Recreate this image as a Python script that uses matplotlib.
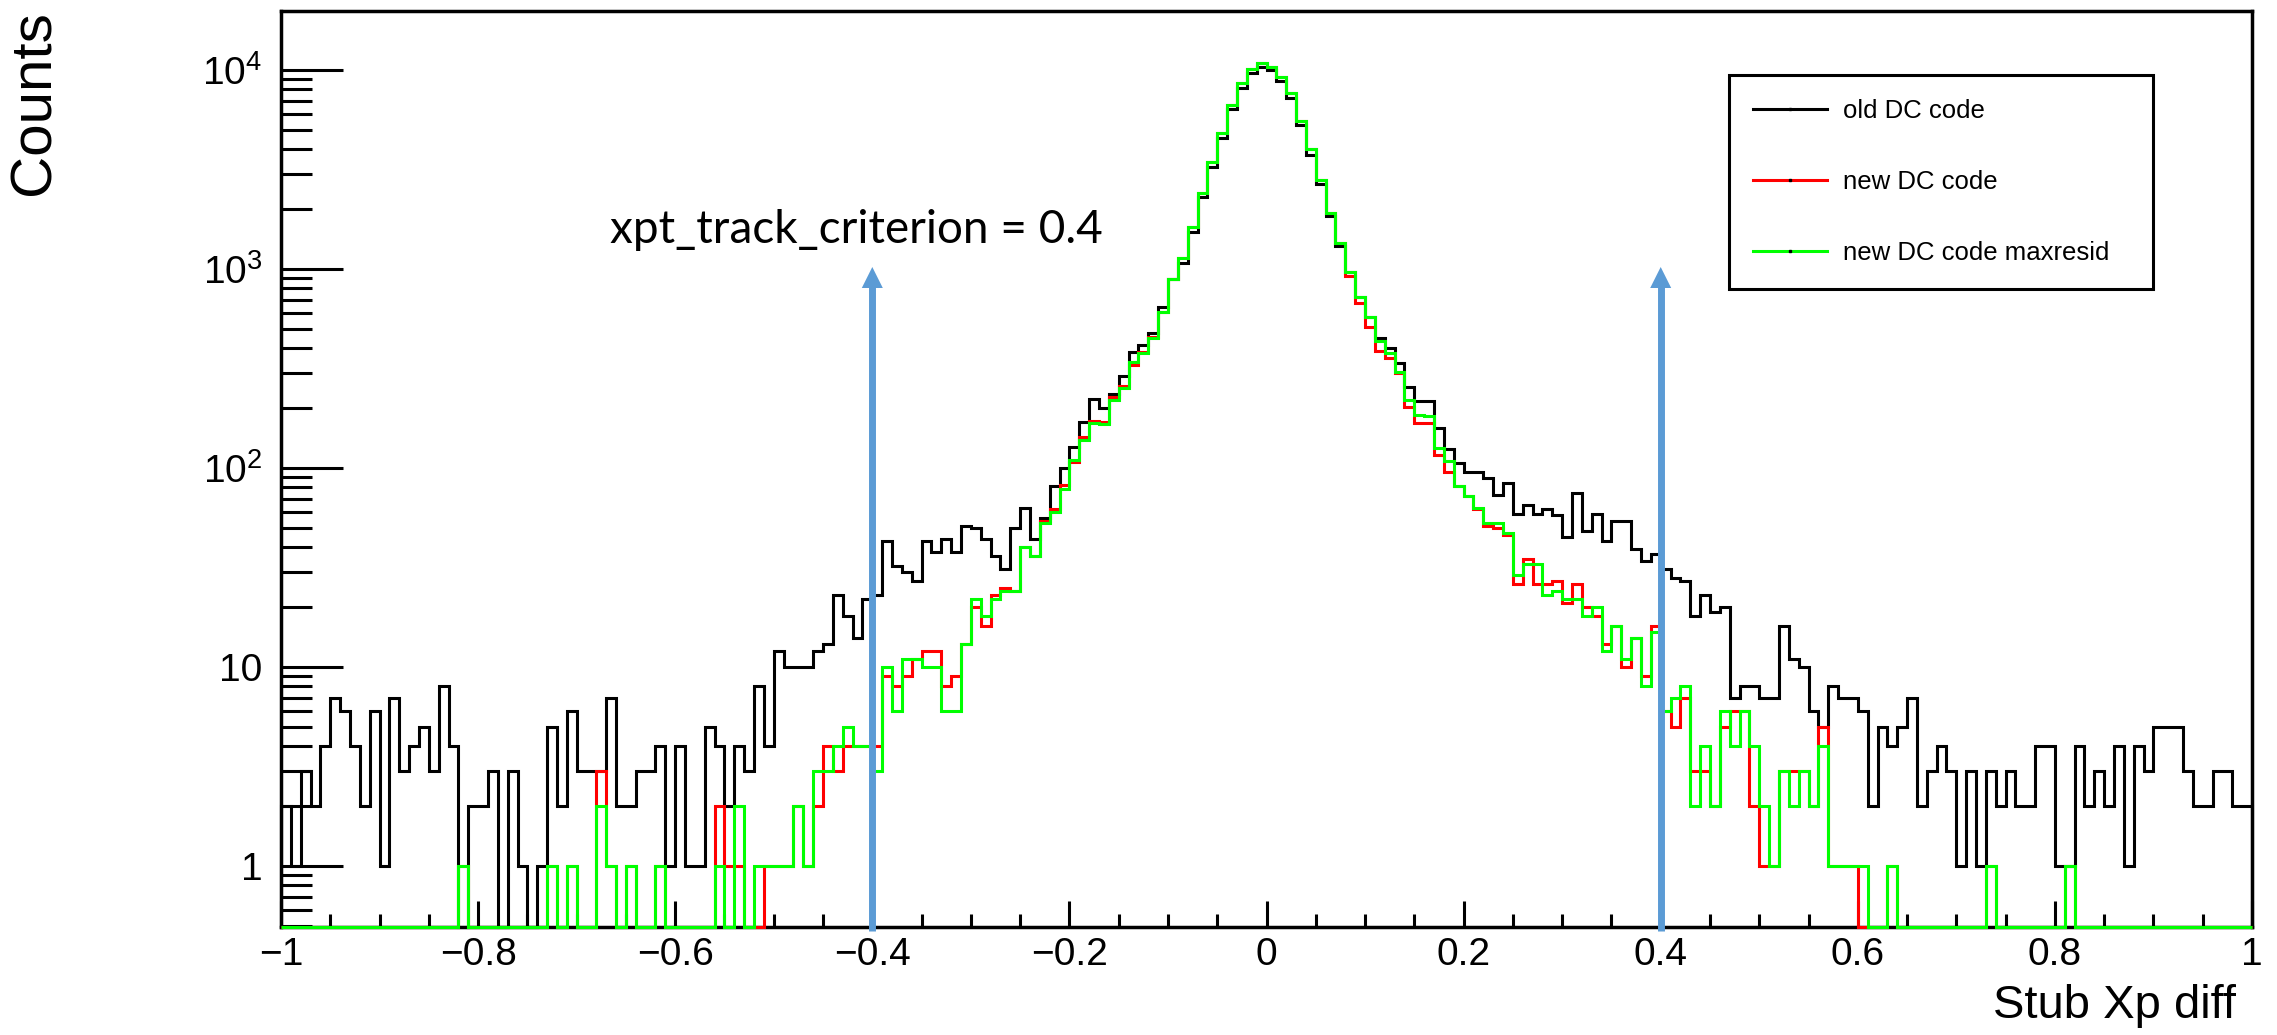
import numpy as np
import matplotlib
matplotlib.use('Agg')
import matplotlib.pyplot as plt
from matplotlib.lines import Line2D
from matplotlib.patches import Polygon
import matplotlib.transforms as mtransforms
from matplotlib.ticker import FixedLocator, FixedFormatter, MultipleLocator, NullFormatter
from matplotlib import font_manager

# ---------------- data ----------------
bin_edges = np.linspace(-1.0, 1.0, 201)

old_dc = [
    2, 1, 3, 2, 4, 7, 6, 4, 2, 6,
    1, 7, 3, 4, 5, 3, 8, 4, 0, 2,
    2, 3, 0, 3, 1, 0, 1, 5, 2, 6,
    3, 3, 3, 7, 2, 2, 3, 3, 4, 1,
    4, 1, 1, 5, 4, 2, 4, 3, 8, 4,
    12, 10, 10, 10, 12, 13, 23, 18, 14, 22,
    23, 43, 32, 30, 27, 43, 38, 44, 38, 51,
    50, 44, 36, 31, 50, 63, 44, 56, 81, 100,
    128, 170, 222, 200, 235, 290, 382, 415, 475, 645,
    890, 1070, 1540, 2300, 3270, 4550, 6350, 8100, 9620, 10400,
    9950, 8750, 7200, 5300, 3740, 2670, 1845, 1300, 965, 725,
    576, 450, 400, 338, 256, 218, 218, 158, 124, 106,
    96, 96, 89, 73, 84, 59, 65, 59, 62, 58,
    45, 75, 48, 59, 43, 54, 54, 39, 34, 37,
    31, 28, 27, 18, 23, 19, 20, 7, 8, 8,
    7, 7, 16, 11, 10, 6, 5, 8, 7, 7,
    6, 2, 5, 4, 5, 7, 2, 3, 4, 3,
    1, 3, 1, 3, 2, 3, 2, 2, 4, 4,
    1, 1, 4, 2, 3, 2, 4, 1, 4, 3,
    5, 5, 5, 3, 2, 2, 3, 3, 2, 2,
]

new_dc = [
    0, 0, 0, 0, 0, 0, 0, 0, 0, 0,
    0, 0, 0, 0, 0, 0, 0, 0, 1, 0,
    0, 0, 0, 0, 0, 0, 0, 1, 0, 1,
    0, 0, 3, 1, 0, 1, 0, 0, 1, 0,
    0, 0, 0, 0, 2, 1, 1, 0, 0, 1,
    1, 1, 2, 1, 2, 4, 3, 4, 4, 4,
    4, 9, 8, 9, 11, 12, 12, 8, 9, 13,
    20, 16, 23, 25, 24, 40, 36, 54, 62, 82,
    107, 143, 173, 170, 228, 258, 330, 383, 455, 610,
    895, 1130, 1630, 2400, 3450, 4840, 6670, 8570, 10080, 10890,
    10400, 9190, 7640, 5540, 3995, 2800, 1918, 1346, 927, 672,
    514, 385, 355, 300, 203, 168, 168, 116, 96, 81,
    72, 62, 51, 50, 46, 26, 35, 26, 26, 27,
    21, 26, 20, 18, 13, 16, 10, 14, 9, 16,
    6, 5, 7, 3, 3, 2, 5, 6, 6, 2,
    1, 1, 3, 3, 3, 2, 5, 1, 1, 1,
    0, 0, 0, 1, 0, 0, 0, 0, 0, 0,
    0, 0, 0, 1, 0, 0, 0, 0, 0, 0,
    0, 1, 0, 0, 0, 0, 0, 0, 0, 0,
    0, 0, 0, 0, 0, 0, 0, 0, 0, 0,
]

new_dc_maxresid = [
    0, 0, 0, 0, 0, 0, 0, 0, 0, 0,
    0, 0, 0, 0, 0, 0, 0, 0, 1, 0,
    0, 0, 0, 0, 0, 0, 0, 1, 0, 1,
    0, 0, 2, 1, 0, 1, 0, 0, 1, 0,
    0, 0, 0, 0, 1, 0, 2, 0, 1, 1,
    1, 1, 2, 1, 3, 3, 4, 5, 4, 4,
    3, 10, 6, 11, 11, 10, 10, 6, 6, 13,
    22, 18, 22, 24, 24, 40, 36, 53, 60, 78,
    110, 138, 168, 166, 220, 252, 340, 377, 450, 605,
    895, 1130, 1630, 2400, 3450, 4840, 6670, 8570, 10080, 10890,
    10400, 9190, 7640, 5540, 3995, 2800, 1918, 1346, 970, 726,
    576, 435, 377, 305, 220, 185, 183, 126, 108, 81,
    72, 63, 53, 53, 47, 29, 33, 33, 23, 24,
    22, 22, 18, 20, 12, 16, 11, 14, 8, 15,
    6, 7, 8, 2, 4, 2, 6, 4, 6, 4,
    2, 1, 3, 2, 3, 2, 4, 1, 1, 1,
    1, 0, 0, 1, 0, 0, 0, 0, 0, 0,
    0, 0, 0, 1, 0, 0, 0, 0, 0, 0,
    0, 1, 0, 0, 0, 0, 0, 0, 0, 0,
    0, 0, 0, 0, 0, 0, 0, 0, 0, 0,
]

series_labels = ['old DC code', 'new DC code', 'new DC code maxresid']
series_colors = ['#000000', '#ff0000', '#00ff00']

x_tick_values = [-1.0, -0.8, -0.6, -0.4, -0.2, 0.0, 0.2, 0.4, 0.6, 0.8, 1.0]
x_tick_labels = ['\u22121', '\u22120.8', '\u22120.6', '\u22120.4', '\u22120.2', '0',
                 '0.2', '0.4', '0.6', '0.8', '1']
y_tick_values = [1, 10, 100, 1000, 10000]
y_tick_labels = ['1', '10', r'$\mathregular{10^{2}}$', r'$\mathregular{10^{3}}$',
                 r'$\mathregular{10^{4}}$']

criterion = 0.4
annotation_text = 'xpt_track_criterion = 0.4'
x_title = 'Stub Xp diff'
y_title = 'Counts'

# ---------------- fonts ----------------
installed = {f.name for f in font_manager.fontManager.ttflist}
narrow = 'Liberation Sans Narrow' if 'Liberation Sans Narrow' in installed else 'Liberation Sans'
root_font = [narrow, 'Liberation Sans', 'DejaVu Sans']
reg_font = ['Liberation Sans', 'DejaVu Sans']
plt.rcParams['font.family'] = root_font
plt.rcParams['mathtext.default'] = 'regular'

# ---------------- figure ----------------
W, H = 2277, 1035
fig = plt.figure(figsize=(W / 100, H / 100), dpi=100)
fig.patch.set_facecolor('white')
ax_left, ax_right, ax_top, ax_bottom = 281, 2252, 11, 927
ax = fig.add_axes([ax_left / W, 1 - ax_bottom / H, (ax_right - ax_left) / W, (ax_bottom - ax_top) / H])

ymin, ymax = 0.494, 1.978e4
ax.set_yscale('log')
ax.set_xlim(-1, 1)
ax.set_ylim(ymin, ymax)

lw_hist = 2.2
for vals, col, lab in zip([old_dc, new_dc, new_dc_maxresid], series_colors, series_labels):
    v = np.asarray(vals, dtype=float)
    v = np.where(v > 0, v, ymin)
    ax.stairs(v, bin_edges, baseline=ymin, color=col, lw=lw_hist, zorder=3,
              clip_on=False, label=lab)

# ---------------- axes styling ----------------
for sp in ax.spines.values():
    sp.set_linewidth(2.5)
    sp.set_color('black')

ax.xaxis.set_major_locator(FixedLocator(x_tick_values))
ax.xaxis.set_major_formatter(FixedFormatter(x_tick_labels))
ax.xaxis.set_minor_locator(MultipleLocator(0.05))
ax.yaxis.set_major_locator(FixedLocator(y_tick_values))
ax.yaxis.set_major_formatter(FixedFormatter(y_tick_labels))
minor_y = [m * 10.0 ** e for e in range(-1, 5) for m in range(2, 10)]
minor_y = [t for t in minor_y if ymin <= t <= ymax]
ax.yaxis.set_minor_locator(FixedLocator(minor_y))
ax.yaxis.set_minor_formatter(NullFormatter())

ax.tick_params(axis='y', which='major', direction='in', length=44.6, width=2.2,
               pad=13.5, labelsize=28, left=True, right=False)
ax.tick_params(axis='y', which='minor', direction='in', length=22.3, width=2.2,
               left=True, right=False)
ax.tick_params(axis='x', which='major', direction='in', length=18.7, width=2.2,
               pad=7, labelsize=28, top=False, bottom=True)
ax.tick_params(axis='x', which='minor', direction='in', length=9.4, width=2.2,
               top=False, bottom=True)

# axis titles
ax.set_xlabel(x_title, fontsize=34, family=root_font)
ax.xaxis.set_label_coords((2236 - ax_left) / (ax_right - ax_left),
                          (ax_bottom - 1018) / (ax_bottom - ax_top))
ax.xaxis.label.set_ha('right')
ax.xaxis.label.set_va('baseline')

ax.set_ylabel(y_title, fontsize=42, family=reg_font)
ax.yaxis.label.set_rotation_mode('default')
ax.yaxis.set_label_coords((35 - ax_left) / (ax_right - ax_left),
                          (ax_bottom - 10) / (ax_bottom - ax_top))
ax.yaxis.label.set_ha('center')
ax.yaxis.label.set_va('top')

# ---------------- legend ----------------
handles = [Line2D([], [], color=c, lw=lw_hist, marker='s', markersize=1.6,
                  markerfacecolor='k', markeredgecolor='k') for c in series_colors]
leg_x0, leg_x1, leg_y0, leg_y1 = 1729, 2153, 75, 303
leg = ax.legend(handles, series_labels, loc='upper left',
                bbox_to_anchor=(leg_x0 / W, 1 - leg_y1 / H, (leg_x1 - leg_x0) / W, (leg_y1 - leg_y0) / H),
                bbox_transform=fig.transFigure, mode='expand',
                prop={'family': reg_font, 'size': 18.5},
                frameon=True, fancybox=False, shadow=False, framealpha=1,
                edgecolor='black', borderpad=0.92, labelspacing=1.84,
                handlelength=2.9, handletextpad=0.62, borderaxespad=0)
leg.get_frame().set_linewidth(2.2)
leg.set_zorder(5)

# ---------------- annotation arrows ----------------
blue = '#5B9BD5'
trans = mtransforms.blended_transform_factory(ax.transData, ax.transAxes)
axis_h = ax_bottom - ax_top
axis_w = ax_right - ax_left
tip_y = (ax_bottom - 267) / axis_h
base_y = (ax_bottom - 288) / axis_h
half_w = 10.5 / axis_w * 2.0
for xc in (-criterion, criterion):
    ax.plot([xc, xc], [-(931 - ax_bottom) / axis_h, base_y + 0.002], transform=trans,
            color=blue, lw=5.0, solid_capstyle='butt', clip_on=False, zorder=4)
    ax.add_patch(Polygon([[xc - half_w, base_y], [xc + half_w, base_y], [xc, tip_y]],
                         closed=True, transform=trans, facecolor=blue, edgecolor='none',
                         clip_on=False, zorder=4))

fig.text(610 / W, 1 - 243 / H, annotation_text, fontsize=33,
         family=['Lato', 'Open Sans', 'DejaVu Sans'], ha='left', va='baseline', color='black')

fig.savefig('out.png', dpi=100, facecolor='white')
